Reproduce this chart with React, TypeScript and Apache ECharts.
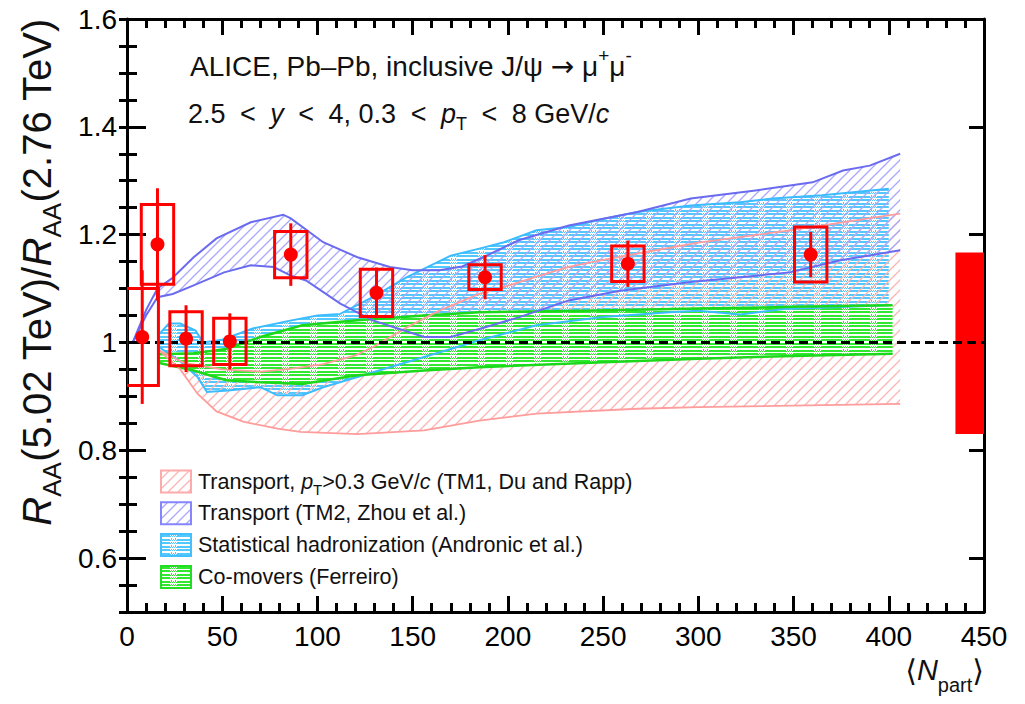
import React, { useEffect, useRef } from "react";
import * as echarts from "echarts";

const FONT = "'Liberation Sans', Arial, Helvetica, sans-serif";
const RED = "#ff0000";

// ---------- axes ----------
const xMin = 0;
const xMax = 450;
const xStep = 50;
const yMin = 0.5;
const yMax = 1.6;
const yMajorTicks = [0.6, 0.8, 1, 1.2, 1.4, 1.6];
const yMinorTicks = [
  0.5, 0.55, 0.6, 0.65, 0.7, 0.75, 0.8, 0.85, 0.9, 0.95, 1, 1.05, 1.1, 1.15,
  1.2, 1.25, 1.3, 1.35, 1.4, 1.45, 1.5, 1.55, 1.6,
];

// ---------- data (ALICE) ----------
const npart = [8, 16, 31, 54, 86, 131, 188, 263, 359];
const raaRatio = [1.01, 1.182, 1.007, 1.002, 1.163, 1.092, 1.121, 1.146, 1.163];
const statErr = [0.124, 0.104, 0.062, 0.052, 0.058, 0.047, 0.041, 0.043, 0.042];
const systErr = [0.09, 0.074, 0.05, 0.043, 0.043, 0.044, 0.023, 0.033, 0.051];
const globalUnc = [0.83, 1.167];
const globalBoxNpart = [435, 450];
const BOX_HALF = 8.5;

// ---------- models ----------
const tm1Upper = [
  [17, 0.985], [30, 0.962], [50, 0.95], [70, 0.946], [86, 0.951], [103, 0.96],
  [120, 0.976], [129, 0.991], [147, 1.028], [164, 1.059], [185, 1.09],
  [198, 1.103], [215, 1.122], [232, 1.14], [250, 1.153], [268, 1.165],
  [300, 1.185], [348, 1.208], [380, 1.225], [406, 1.239],
];
const tm1Lower = [
  [17, 0.985], [28, 0.95], [37, 0.905], [47, 0.872], [61, 0.853], [79, 0.84],
  [91, 0.834], [121, 0.83], [156, 0.837], [185, 0.855], [215, 0.868],
  [268, 0.877], [300, 0.88], [350, 0.883], [406, 0.886],
];
const tm2Upper = [
  [3, 1.0], [10, 1.06], [16, 1.1], [24, 1.12], [35, 1.158], [47, 1.193],
  [65, 1.223], [82, 1.237], [86, 1.23], [103, 1.186], [121, 1.158],
  [138, 1.14], [150, 1.134], [164, 1.134], [176, 1.141], [187, 1.158],
  [206, 1.19], [232, 1.217], [268, 1.242], [296, 1.267], [330, 1.282],
  [360, 1.297], [376, 1.319], [390, 1.328], [406, 1.35],
];
const tm2Lower = [
  [3, 1.0], [10, 1.05], [16, 1.084], [24, 1.09], [35, 1.106], [51, 1.13],
  [65, 1.143], [77, 1.14], [86, 1.124], [94, 1.115], [112, 1.072],
  [129, 1.041], [143, 1.025], [156, 1.01], [170, 1.01], [185, 1.025],
  [206, 1.047], [232, 1.078], [259, 1.096], [296, 1.112], [348, 1.13],
  [374, 1.152], [406, 1.171],
];
const shmUpper = [
  [17, 1.016], [22, 1.035], [28, 1.035], [36, 1.022], [40, 1.0], [50, 1.005],
  [66, 1.026], [85, 1.04], [100, 1.05], [112, 1.053], [129, 1.084],
  [147, 1.121], [170, 1.161], [185, 1.174], [198, 1.186], [215, 1.208],
  [232, 1.214], [250, 1.229], [268, 1.242], [296, 1.254], [322, 1.26],
  [339, 1.267], [365, 1.273], [400, 1.285],
];
const shmLower = [
  [17, 0.991], [28, 0.965], [37, 0.936], [42, 0.908], [53, 0.911], [70, 0.917],
  [79, 0.902], [92, 0.902], [103, 0.917], [121, 0.936], [138, 0.954],
  [156, 0.973], [173, 0.991], [185, 1.004], [215, 1.032], [250, 1.047],
  [285, 1.056], [300, 1.059], [322, 1.052], [345, 1.062], [400, 1.069],
];
const comUpper = [
  [17, 0.978], [35, 0.98], [52, 0.988], [70, 1.01], [92, 1.032], [121, 1.041],
  [156, 1.05], [185, 1.056], [240, 1.059], [300, 1.063], [350, 1.066],
  [402, 1.069],
];
const comLower = [
  [17, 0.962], [35, 0.948], [52, 0.93], [70, 0.926], [92, 0.923], [121, 0.939],
  [156, 0.948], [185, 0.954], [240, 0.962], [300, 0.97], [350, 0.975],
  [402, 0.979],
];

const legendLabels = [
  "{n|Transport, }{i|p}{s|T}{n|>0.3 GeV/}{i|c}{n| (TM1, Du and Rapp)}",
  "{n|Transport (TM2, Zhou et al.)}",
  "{n|Statistical hadronization (Andronic et al.)}",
  "{n|Co-movers (Ferreiro)}",
];

const COL = {
  tm1Hatch: "#ffb4b4",
  tm1Edge: "#ff9c9c",
  tm2Hatch: "#a8a8ff",
  tm2Edge: "#6b6bf0",
  shm: "#52c8ff",
  shmEdge: "#3bbcff",
  com: "#30e830",
  comEdge: "#1bd81b",
};

function hatchPattern(color: string) {
  const s = 10;
  const c = document.createElement("canvas");
  c.width = s;
  c.height = s;
  const ctx = c.getContext("2d")!;
  ctx.strokeStyle = color;
  ctx.lineWidth = 1.3;
  ctx.beginPath();
  ctx.moveTo(-1, s + 1);
  ctx.lineTo(s + 1, -1);
  ctx.moveTo(-1, 1);
  ctx.lineTo(1, -1);
  ctx.moveTo(s - 1, s + 1);
  ctx.lineTo(s + 1, s - 1);
  ctx.stroke();
  return { image: c, repeat: "repeat", imageWidth: s, imageHeight: s };
}

function texturePattern(color: string) {
  const w = 28;
  const h = 7;
  const c = document.createElement("canvas");
  c.width = w;
  c.height = h;
  const ctx = c.getContext("2d")!;
  ctx.fillStyle = "#ffffff";
  ctx.fillRect(0, 0, w, h);
  ctx.fillStyle = color;
  ctx.fillRect(0, 0, w, 2);
  ctx.fillRect(0, 3, w, 2);
  ctx.fillStyle = "#ffffff";
  const dots = [
    [2, 0], [4, 0], [6, 0], [8, 0], [3, 1], [5, 1], [7, 1],
    [2, 3], [4, 3], [6, 3], [8, 3], [3, 4], [5, 4], [7, 4],
  ];
  dots.forEach(([px, py]) => ctx.fillRect(px, py, 1, 1));
  ctx.fillStyle = color;
  ctx.fillRect(3, 6, 1, 1);
  ctx.fillRect(7, 6, 1, 1);
  return { image: c, repeat: "repeat", imageWidth: w, imageHeight: h };
}

export default function App() {
  const ref = useRef<HTMLDivElement>(null);

  useEffect(() => {
    if (!ref.current) return;
    const chart = echarts.init(ref.current, null, { renderer: "svg" });

    const tm1Pat = hatchPattern(COL.tm1Hatch);
    const tm2Pat = hatchPattern(COL.tm2Hatch);
    const shmPat = texturePattern(COL.shm);
    const comPat = texturePattern(COL.com);

    const axisLine = { show: true, onZero: false, lineStyle: { color: "#000", width: 3 } };

    const xAxisBase = (pos: "bottom" | "top", labels: boolean) => ({
      type: "value",
      min: xMin,
      max: xMax,
      interval: xStep,
      position: pos,
      axisLine,
      axisTick: { show: true, inside: true, length: 16, lineStyle: { color: "#000", width: 3 } },
      minorTick: { show: true, splitNumber: 5, length: 9, lineStyle: { color: "#000", width: 3 } },
      axisLabel: {
        show: labels,
        fontSize: 28,
        color: "#000",
        fontFamily: FONT,
        margin: 10,
      },
      splitLine: { show: false },
      minorSplitLine: { show: false },
    });

    const yAxisBase = (pos: "left" | "right", ticks: number[], len: number, labels: boolean, line: boolean) => ({
      type: "value",
      min: yMin,
      max: yMax,
      position: pos,
      axisLine: line ? axisLine : { show: false },
      axisTick: {
        show: true,
        inside: true,
        length: len,
        customValues: ticks,
        lineStyle: { color: "#000", width: 3 },
      },
      axisLabel: {
        show: labels,
        customValues: yMajorTicks,
        fontSize: 28,
        color: "#000",
        fontFamily: FONT,
        margin: 10,
      },
      splitLine: { show: false },
    });

    const modelsRender = (params: any, api: any) => {
      const pts = (arr: number[][]) => arr.map((p) => api.coord(p));
      const band = (up: number[][], lo: number[][]) => pts(up).concat(pts(lo).reverse());
      const edge = (arr: number[][], color: string, w: number) => ({
        type: "polyline",
        shape: { points: pts(arr) },
        style: { stroke: color, lineWidth: w, fill: "none" },
      });
      return {
        type: "group",
        children: [
          { type: "polygon", shape: { points: band(shmUpper, shmLower) }, style: { fill: shmPat } },
          { type: "polygon", shape: { points: band(tm1Upper, tm1Lower) }, style: { fill: tm1Pat } },
          { type: "polygon", shape: { points: band(tm2Upper, tm2Lower) }, style: { fill: tm2Pat } },
          { type: "polygon", shape: { points: band(comUpper, comLower) }, style: { fill: comPat } },
          edge(shmUpper, COL.shmEdge, 2),
          edge(shmLower, COL.shmEdge, 2),
          edge(comUpper, COL.comEdge, 2.5),
          edge(comLower, COL.comEdge, 2.5),
          edge(tm1Upper, COL.tm1Edge, 1.8),
          edge(tm1Lower, COL.tm1Edge, 1.8),
          edge(tm2Upper, COL.tm2Edge, 2),
          edge(tm2Lower, COL.tm2Edge, 2),
        ],
      };
    };

    const dataRender = (params: any, api: any) => {
      const x = api.value(0);
      const y = api.value(1);
      const st = api.value(2);
      const sy = api.value(3);
      const c = api.coord([x, y]);
      const lt = api.coord([x - BOX_HALF, y + sy]);
      const rb = api.coord([x + BOX_HALF, y - sy]);
      const t = api.coord([x, y + st]);
      const b = api.coord([x, y - st]);
      return {
        type: "group",
        children: [
          {
            type: "rect",
            shape: { x: lt[0], y: lt[1], width: rb[0] - lt[0], height: rb[1] - lt[1] },
            style: { fill: "none", stroke: RED, lineWidth: 3 },
          },
          {
            type: "line",
            shape: { x1: t[0], y1: t[1], x2: b[0], y2: b[1] },
            style: { stroke: RED, lineWidth: 3 },
          },
          { type: "circle", shape: { cx: c[0], cy: c[1], r: 7 }, style: { fill: RED } },
        ],
      };
    };

    const globalRender = (params: any, api: any) => {
      const lt = api.coord([api.value(0), api.value(3)]);
      const rb = api.coord([api.value(1), api.value(2)]);
      return {
        type: "rect",
        shape: { x: lt[0], y: lt[1], width: rb[0] - lt[0], height: rb[1] - lt[1] },
        style: { fill: RED },
      };
    };

    const legendBoxes = [
      { pat: tm1Pat, stroke: "#ffaaaa" },
      { pat: tm2Pat, stroke: "#8585ff" },
      { pat: shmPat, stroke: "#45c0ff" },
      { pat: comPat, stroke: "#22dd22" },
    ];
    const legendY0 = 481.5;
    const legendDy = 31.8;

    const legendRich = {
      n: { fontSize: 21.5, fontFamily: FONT, fill: "#111", lineHeight: 31 },
      i: { fontSize: 21.5, fontFamily: FONT, fontStyle: "italic", fill: "#111", lineHeight: 31 },
      s: { fontSize: 15, fontFamily: FONT, fill: "#111", verticalAlign: "bottom" },
    };

    const graphics: any[] = [];
    legendBoxes.forEach((lb, k) => {
      const cy = legendY0 + k * legendDy;
      graphics.push({
        type: "rect",
        shape: { x: 161, y: cy - 11, width: 30, height: 22 },
        style: { fill: lb.pat, stroke: lb.stroke, lineWidth: 2 },
      });
      graphics.push({
        type: "text",
        x: 198,
        y: cy,
        style: { text: legendLabels[k], rich: legendRich, align: "left", verticalAlign: "middle" },
      });
    });

    // y-axis title
    graphics.push({
      type: "text",
      x: 37,
      y: 272,
      rotation: Math.PI / 2,
      style: {
        text: "{i|R}{s|AA}{n|(5.02 TeV)/}{i|R}{s|AA}{n|(2.76 TeV)}",
        align: "center",
        verticalAlign: "middle",
        rich: {
          n: { fontSize: 40, fontFamily: FONT, fill: "#111", lineHeight: 56 },
          i: { fontSize: 40, fontFamily: FONT, fontStyle: "italic", fill: "#111", lineHeight: 56 },
          s: { fontSize: 26, fontFamily: FONT, fill: "#111", verticalAlign: "bottom" },
        },
      },
    });

    // x-axis title
    graphics.push({
      type: "text",
      x: 984,
      y: 670,
      style: {
        text: "{b|\u27E8}{i|N}{s|part}{b|\u27E9}",
        align: "right",
        verticalAlign: "middle",
        rich: {
          b: { fontSize: 30, fontFamily: "'DejaVu Sans', " + FONT, fill: "#111", lineHeight: 50 },
          i: { fontSize: 29, fontFamily: FONT, fontStyle: "italic", fill: "#111", lineHeight: 50 },
          s: { fontSize: 20, fontFamily: FONT, fill: "#111", verticalAlign: "bottom" },
        },
      },
    });

    // headline texts
    graphics.push({
      type: "text",
      x: 190,
      y: 66,
      style: {
        text: "{n|ALICE, Pb\u2013Pb, inclusive J/\u03C8 }{a|\u2192}{n| \u03BC}{p|+}{n|\u03BC}{p|-}",
        align: "left",
        verticalAlign: "middle",
        rich: {
          n: { fontSize: 28, fontFamily: FONT, fill: "#111", lineHeight: 40 },
          a: { fontSize: 28, fontFamily: "'DejaVu Sans', " + FONT, fill: "#111", lineHeight: 40 },
          p: { fontSize: 19, fontFamily: FONT, fill: "#111", verticalAlign: "top" },
        },
      },
    });
    const lt = { fontSize: 27, fontFamily: FONT, fill: "#111", lineHeight: 38, padding: [0, 7, 0, 7] };
    graphics.push({
      type: "text",
      x: 188,
      y: 114,
      style: {
        text: "{n|2.5}{o| < }{i|y}{o| < }{n|4, 0.3}{o| < }{i|p}{s|T}{o| < }{n|8 GeV/}{i|c}",
        align: "left",
        verticalAlign: "middle",
        rich: {
          n: { fontSize: 27, fontFamily: FONT, fill: "#111", lineHeight: 38 },
          o: lt,
          i: { fontSize: 27, fontFamily: FONT, fontStyle: "italic", fill: "#111", lineHeight: 38 },
          s: { fontSize: 18, fontFamily: FONT, fill: "#111", verticalAlign: "bottom" },
        },
      },
    });

    chart.setOption({
      animation: false,
      backgroundColor: "#ffffff",
      textStyle: { fontFamily: FONT },
      grid: { left: 127, right: 41, top: 19, bottom: 92, containLabel: false },
      xAxis: [xAxisBase("bottom", true), xAxisBase("top", false)],
      yAxis: [
        yAxisBase("left", yMajorTicks, 19, true, true),
        yAxisBase("left", yMinorTicks, 10, false, false),
        yAxisBase("right", yMajorTicks, 15, false, true),
        yAxisBase("right", yMinorTicks, 8, false, false),
      ],
      series: [
        {
          type: "custom",
          name: "models",
          z: 1,
          clip: true,
          data: [[200, 1]],
          renderItem: modelsRender,
        },
        {
          type: "custom",
          name: "global",
          z: 2,
          clip: true,
          encode: { x: [0, 1], y: [2, 3] },
          data: [[globalBoxNpart[0], globalBoxNpart[1], globalUnc[0], globalUnc[1]]],
          renderItem: globalRender,
        },
        {
          type: "line",
          name: "unity",
          z: 3,
          symbol: "none",
          data: [
            [xMin, 1],
            [xMax, 1],
          ],
          lineStyle: { color: "#000", width: 3, type: [9, 5] },
        },
        {
          type: "custom",
          name: "data",
          z: 4,
          clip: true,
          encode: { x: 0, y: 1 },
          data: npart.map((x, i) => [x, raaRatio[i], statErr[i], systErr[i]]),
          renderItem: dataRender,
        },
      ],
      graphic: graphics,
    });

    return () => chart.dispose();
  }, []);

  return (
    <div
      ref={ref}
      style={{ position: "absolute", left: 0, top: 0, width: 1025, height: 704, background: "#fff" }}
    />
  );
}
